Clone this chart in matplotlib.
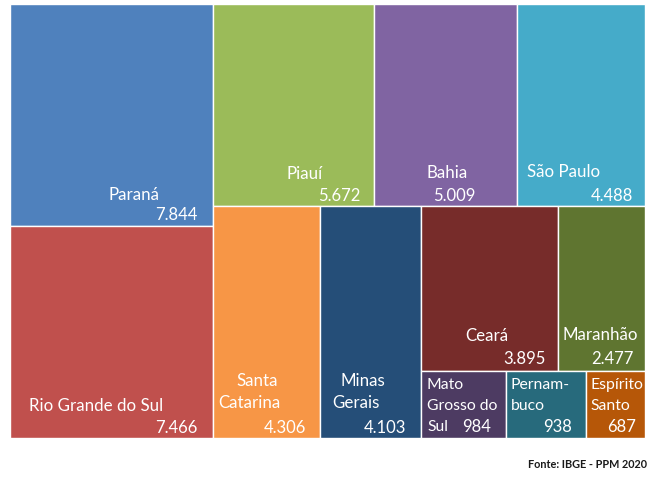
import matplotlib
matplotlib.use("Agg")
import matplotlib.pyplot as plt
from matplotlib.patches import Rectangle

W, H = 666, 481
states = ["Paraná", "Rio Grande do Sul", "Piauí", "Bahia", "São Paulo", "Santa Catarina",
          "Minas Gerais", "Ceará", "Maranhão", "Mato Grosso do Sul", "Pernambuco", "Espírito Santo"]
values = [7844, 7466, 5672, 5009, 4488, 4306, 4103, 3895, 2477, 984, 938, 687]
colors = ["#4F81BD", "#C0504D", "#9BBB59", "#8064A2", "#45ABC9", "#F79646",
          "#254E78", "#772C2A", "#5F7530", "#4D3B62", "#276A7C", "#B65708"]
source = "Fonte: IBGE - PPM 2020"

# Nested treemap structure: indexes into the lists above
tree = ("h", ("v", 0, 1),
        ("v", ("h", 2, 3, 4),
              ("h", 5, 6, ("v", ("h", 7, 8), ("h", 9, 10, 11)))))


def weight(node):
    if isinstance(node, int):
        return values[node]
    return sum(weight(c) for c in node[1:])


def layout(node, x, y, w, h, out):
    if isinstance(node, int):
        out[node] = (x, y, w, h)
        return
    total = weight(node)
    top = y + h
    for c in node[1:]:
        f = weight(c) / total
        if node[0] == "h":
            layout(c, x, y, w * f, h, out)
            x += w * f
        else:
            # first child on top
            top -= h * f
            layout(c, x, top, w, h * f, out)


plt.rcParams["font.family"] = ["Lato", "DejaVu Sans"]
fig = plt.figure(figsize=(W / 100, H / 100), dpi=100, facecolor="white")
ax = fig.add_axes([9.5 / W, 1 - 439 / H, 635 / W, 434 / H])
ax.set_xlim(0, 1)
ax.set_ylim(0, 1)
ax.axis("off")

cells = {}
layout(tree, 0, 0, 1, 1, cells)
for i, (x, y, w, h) in cells.items():
    ax.add_patch(Rectangle((x, y), w, h, facecolor=colors[i], edgecolor="white", linewidth=1, clip_on=False))


def put(px, py, s, ha="left", size=12.2, color="#FFFFFF", **kw):
    fig.text(px / W, 1 - py / H, s, ha=ha, va="center", fontsize=size, color=color, **kw)


def num(i):
    return f"{values[i]:,}".replace(",", ".")


label_lines = [
    (109, 195, "Paraná"), (286, 174, "Piauí"), (426, 173, "Bahia"), (527, 172, "São Paulo"),
    (29, 406, "Rio Grande do Sul"), (236, 381, "Santa"), (218, 403, "Catarina"),
    (340, 381, "Minas"), (332, 403, "Gerais"), (465, 336, "Ceará"), (562, 335, "Maranhão"),
]
for px, py, s in label_lines:
    put(px, py, s)

small_lines = [
    (427, 385, "Mato"), (427, 406, "Grosso do"), (427, 427, "Sul"),
    (511, 385, "Pernam-"), (511, 406, "buco"), (590, 385, "Espírito"), (590, 406, "Santo"),
]
for px, py, s in small_lines:
    put(px, py, s, size=11.3)

value_anchor = [(197, 215), (198, 428), (360, 196), (475, 196), (633, 196), (306, 428),
                (406, 428), (546, 359), (634, 359), (491, 427), (572, 427), (636, 427)]
for i, (px, py) in enumerate(value_anchor):
    put(px, py, num(i), ha="right", size=12)

put(647, 464, source, ha="right", size=7.8, color="#1A1A1A", fontweight="bold")

fig.savefig("out.png", dpi=100, facecolor="white")
